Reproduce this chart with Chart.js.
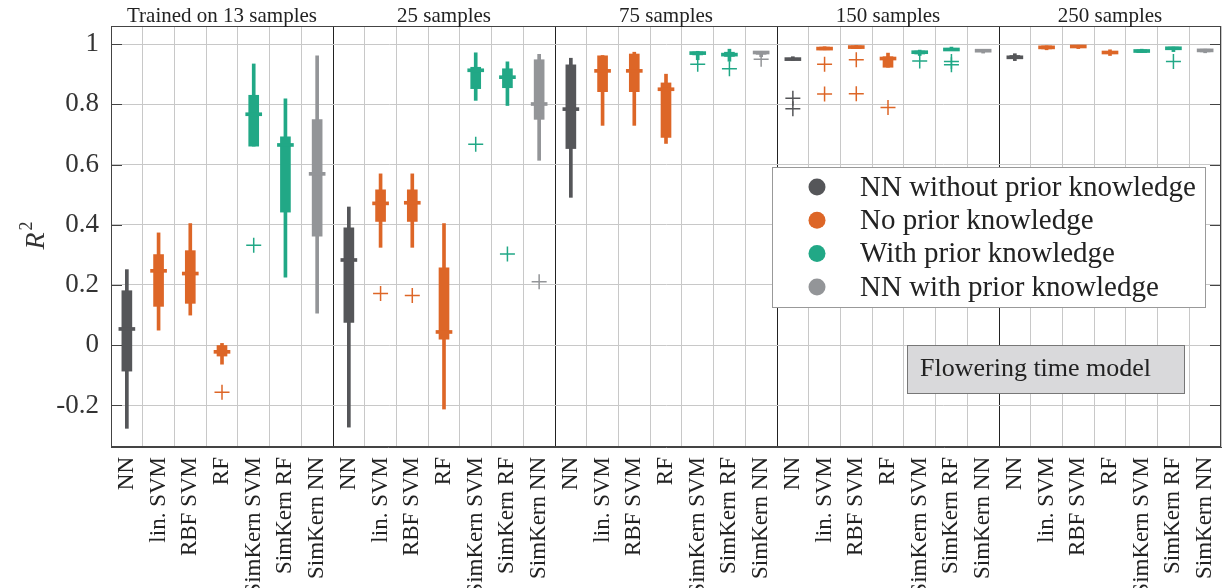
<!DOCTYPE html>
<html>
<head>
<meta charset="utf-8">
<script src="https://cdn.jsdelivr.net/npm/chart.js@4.4.0/dist/chart.umd.min.js"></script>
<style>
  html, body { margin: 0; padding: 0; background: #fff; }
</style>
</head>
<body>
<canvas id="chart" width="1230" height="588"></canvas>
<script>
const groups = ['Trained on 13 samples', '25 samples', '75 samples', '150 samples', '250 samples'];
const models = ['NN', 'lin. SVM', 'RBF SVM', 'RF', 'SimKern SVM', 'SimKern RF', 'SimKern NN'];
const modelKind = [0, 1, 1, 1, 2, 2, 3];
const kindNames = ['NN without prior knowledge', 'No prior knowledge', 'With prior knowledge', 'NN with prior knowledge'];
const kindColors = ['#555659', '#dd6627', '#21a886', '#939598'];

const yTicks = [-0.2, 0, 0.2, 0.4, 0.6, 0.8, 1];
const yTickLabels = ['-0.2', '0', '0.2', '0.4', '0.6', '0.8', '1'];

// one value per box, 7 models x 5 sample sizes
const whiskerLow = [
  -0.276, 0.050, 0.100, -0.063, 0.661, 0.226, 0.106,
  -0.272, 0.325, 0.325, -0.212, 0.813, 0.796, 0.614,
  0.491, 0.730, 0.730, 0.670, 0.948, 0.943, 0.958,
  0.946, 0.981, 0.985, 0.923, 0.962, 0.979, 0.970,
  0.945, 0.981, 0.985, 0.962, 0.972, 0.975, 0.971
];
const q1 = [
  -0.086, 0.129, 0.139, -0.036, 0.661, 0.442, 0.362,
  0.076, 0.411, 0.411, 0.020, 0.852, 0.855, 0.750,
  0.653, 0.842, 0.842, 0.690, 0.964, 0.959, 0.966,
  0.948, 0.981, 0.985, 0.923, 0.967, 0.979, 0.975,
  0.952, 0.984, 0.988, 0.968, 0.972, 0.982, 0.974
];
const medians = [
  0.054, 0.247, 0.238, -0.022, 0.767, 0.665, 0.569,
  0.283, 0.471, 0.473, 0.044, 0.913, 0.890, 0.801,
  0.784, 0.911, 0.911, 0.850, 0.970, 0.965, 0.972,
  0.950, 0.985, 0.990, 0.952, 0.973, 0.982, 0.978,
  0.956, 0.989, 0.992, 0.972, 0.977, 0.986, 0.979
];
const q3 = [
  0.181, 0.301, 0.314, -0.001, 0.830, 0.692, 0.749,
  0.390, 0.516, 0.516, 0.257, 0.923, 0.918, 0.948,
  0.931, 0.961, 0.967, 0.871, 0.974, 0.973, 0.973,
  0.953, 0.990, 0.994, 0.958, 0.977, 0.986, 0.981,
  0.962, 0.994, 0.996, 0.975, 0.981, 0.990, 0.983
];
const whiskerHigh = [
  0.251, 0.373, 0.404, 0.006, 0.934, 0.818, 0.961,
  0.459, 0.569, 0.569, 0.404, 0.971, 0.941, 0.966,
  0.953, 0.962, 0.973, 0.900, 0.976, 0.983, 0.976,
  0.958, 0.991, 0.995, 0.970, 0.980, 0.990, 0.981,
  0.968, 0.994, 0.996, 0.981, 0.983, 0.990, 0.983
];
const outliersA = [
  null, null, null, -0.156, 0.332, null, null,
  null, 0.172, 0.165, null, 0.667, 0.303, 0.211,
  null, null, null, null, 0.933, 0.918, 0.950,
  0.820, 0.933, 0.948, 0.789, 0.944, 0.942, null,
  null, null, null, null, null, 0.942, null
];
const outliersB = [
  null, null, null, null, null, null, null,
  null, null, null, null, null, null, null,
  null, null, null, null, null, null, null,
  0.785, 0.834, 0.835, null, null, 0.931, null,
  null, null, null, null, null, null, null
];

const serif = '"Liberation Serif", "DejaVu Serif", serif';
const labels = [];
groups.forEach(() => models.forEach(m => labels.push(m)));
const colors = labels.map((l, i) => kindColors[modelKind[i % 7]]);

const decorations = {
  id: 'decorations',
  afterDraw(chart) {
    const ctx = chart.ctx;
    const area = chart.chartArea;
    const y = chart.scales.y;
    const x = chart.scales.x;
    ctx.save();

    // frame and inner ticks
    ctx.strokeStyle = '#444';
    ctx.lineWidth = 1;
    ctx.strokeRect(area.left + 0.5, area.top + 0.5, area.right - area.left - 1, area.bottom - area.top - 1);
    yTicks.forEach(v => {
      const py = Math.round(y.getPixelForValue(v)) + 0.5;
      ctx.beginPath();
      ctx.moveTo(area.left, py); ctx.lineTo(area.left + 11, py);
      ctx.moveTo(area.right, py); ctx.lineTo(area.right - 11, py);
      ctx.stroke();
    });

    // group titles
    ctx.fillStyle = '#222';
    ctx.font = '21px ' + serif;
    ctx.textAlign = 'center';
    ctx.textBaseline = 'alphabetic';
    groups.forEach((g, i) => {
      const cx = (x.getPixelForValue(i * 7) + x.getPixelForValue(i * 7 + 6)) / 2;
      ctx.fillText(g, cx, 22);
    });

    // y title
    ctx.save();
    ctx.translate(44, 237);
    ctx.rotate(-Math.PI / 2);
    ctx.textAlign = 'left';
    ctx.font = 'italic 28px ' + serif;
    ctx.fillStyle = '#333';
    const rw = ctx.measureText('R').width;
    ctx.fillText('R', -rw / 2 - 4, 0);
    ctx.font = '18px ' + serif;
    ctx.fillText('2', rw / 2 - 2, -12);
    ctx.restore();

    // legend
    ctx.fillStyle = '#fff';
    ctx.fillRect(772, 167, 433, 140);
    ctx.strokeStyle = '#999';
    ctx.strokeRect(772.5, 167.5, 433, 140);
    ctx.font = '29px ' + serif;
    ctx.textAlign = 'left';
    ctx.textBaseline = 'middle';
    kindNames.forEach((name, i) => {
      const ly = 187 + i * 33.3;
      ctx.fillStyle = kindColors[i];
      ctx.beginPath();
      ctx.arc(817, ly, 8.5, 0, Math.PI * 2);
      ctx.fill();
      ctx.fillStyle = '#222';
      ctx.fillText(name, 860, ly + 1);
    });

    // model label box
    ctx.fillStyle = '#d9d9db';
    ctx.fillRect(907, 345, 277, 48);
    ctx.strokeStyle = '#777';
    ctx.strokeRect(907.5, 345.5, 277, 48);
    ctx.fillStyle = '#222';
    ctx.font = '26px ' + serif;
    ctx.fillText('Flowering time model', 920, 369);
    ctx.restore();
  }
};

const chart = new Chart(document.getElementById('chart'), {
  type: 'bar',
  data: {
    labels: labels,
    datasets: [
      {
        label: 'outliers',
        type: 'line',
        data: outliersA,
        showLine: false,
        pointStyle: 'cross',
        pointRadius: 7.5,
        pointBorderWidth: 1.5,
        pointBorderColor: colors,
        pointBackgroundColor: colors
      },
      {
        label: 'outliers 2',
        type: 'line',
        data: outliersB,
        showLine: false,
        pointStyle: 'cross',
        pointRadius: 7.5,
        pointBorderWidth: 1.5,
        pointBorderColor: colors,
        pointBackgroundColor: colors
      },
      {
        label: 'median',
        data: medians.map(m => [m - 0.005, m + 0.005]),
        backgroundColor: colors,
        barThickness: 16,
        grouped: false
      },
      {
        label: 'box',
        data: q1.map((v, i) => [v, q3[i]]),
        backgroundColor: colors,
        barThickness: 10,
        grouped: false
      },
      {
        label: 'whisker',
        data: whiskerLow.map((v, i) => [v, whiskerHigh[i]]),
        backgroundColor: colors,
        barThickness: 3,
        grouped: false
      }
    ]
  },
  options: {
    responsive: false,
    animation: false,
    layout: { padding: { top: 26, right: 2, left: 0, bottom: 0 } },
    plugins: {
      legend: { display: false },
      tooltip: { enabled: false }
    },
    scales: {
      x: {
        offset: true,
        grid: {
          offset: true,
          drawTicks: false,
          color: ctx => (ctx.index % 7 === 0 && ctx.index > 0 && ctx.index < 35) ? '#222' : '#c8c8c8'
        },
        border: { color: '#444' },
        ticks: {
          autoSkip: false,
          maxRotation: 90,
          minRotation: 90,
          padding: 10,
          color: '#222',
          font: { family: serif, size: 23 }
        },
        afterFit: axis => {
          axis.height = 141;
          axis.paddingLeft = 0;
          axis.paddingRight = 0;
        }
      },
      y: {
        min: -0.338,
        max: 1.06,
        afterBuildTicks: axis => { axis.ticks = yTicks.map(v => ({ value: v })); },
        grid: { color: '#c8c8c8', drawTicks: false },
        border: { color: '#444' },
        ticks: {
          padding: 12,
          color: '#333',
          font: { family: serif, size: 27 },
          callback: (v, i) => yTickLabels[i]
        },
        afterFit: axis => {
          axis.width = 111;
          axis.paddingTop = 0;
          axis.paddingBottom = 0;
        }
      }
    }
  },
  plugins: [decorations]
});
</script>
</body>
</html>
